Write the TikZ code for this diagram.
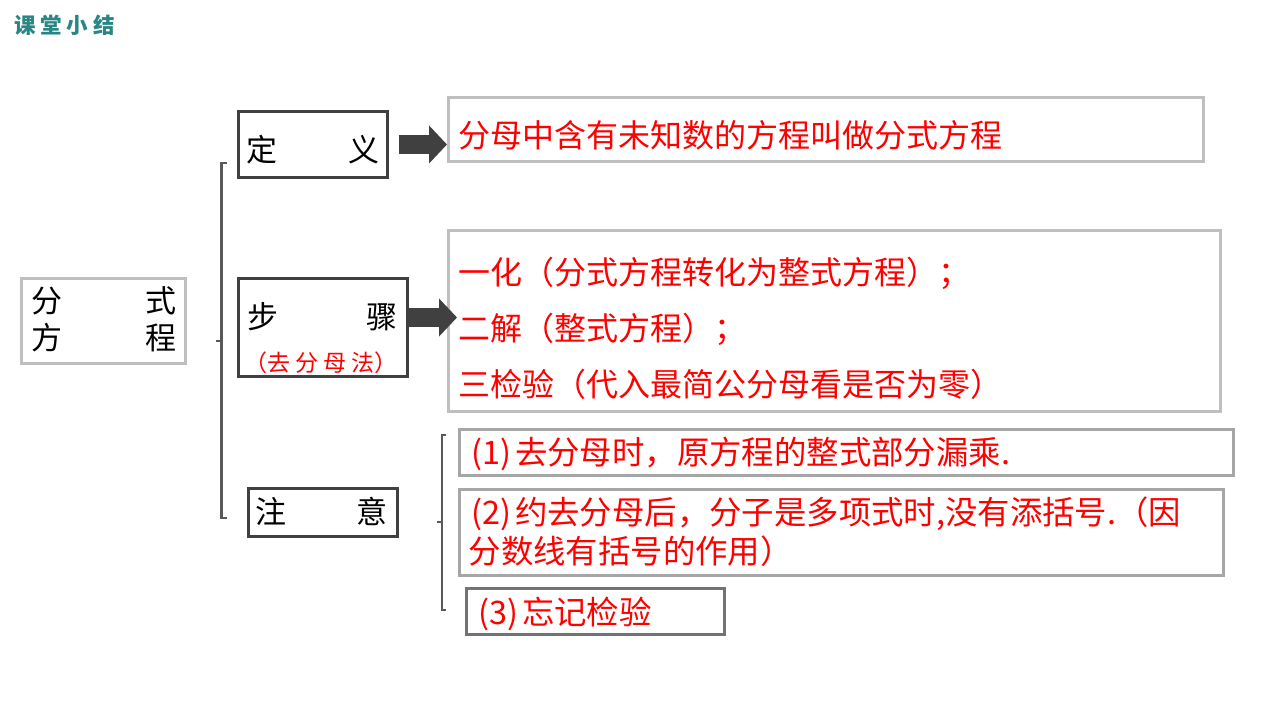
\documentclass[tikz,border=0pt]{standalone}
\usepackage{fontspec}
\setmainfont{Noto Sans CJK SC}
\usetikzlibrary{arrows.meta,calc}
\definecolor{boxdark}{HTML}{404040}
\definecolor{boxlight}{HTML}{BFBFBF}
\definecolor{boxmid}{HTML}{A6A6A6}
\definecolor{boxthree}{HTML}{737373}
\definecolor{bracketc}{HTML}{595959}
\definecolor{arrowc}{HTML}{404040}
\definecolor{txtred}{HTML}{FF0000}
\definecolor{titlec}{HTML}{2A8585}
\begin{document}
\begin{tikzpicture}[x=1pt,y=-1pt,
  box/.style={rectangle,line width=3pt,inner sep=0pt,fill=white},
  darkbox/.style={box,draw=boxdark},
  lightbox/.style={box,draw=boxlight},
  midbox/.style={box,draw=boxmid},
  thirdbox/.style={box,draw=boxthree},
  blacklabel/.style={anchor=base west,inner sep=0pt,font=\fontsize{31}{37}\selectfont},
  redline/.style={anchor=base west,inner sep=0pt,text=txtred,font=\fontsize{32}{38}\selectfont},
  reditem/.style={redline,font=\fontsize{32.4}{39}\selectfont},
  bigarrow/.style={draw=arrowc,line width=19pt,-{Triangle[length=18pt,width=37pt]}},
  bracket/.style={draw=bracketc,line width=2.5pt}]
\fill[white] (0,0) rectangle (1279,720);
\useasboundingbox (0,0) rectangle (1279,720);

% title
\node[anchor=base west,inner sep=0pt,text=titlec,font=\fontsize{21.5}{25}\bfseries] (title) at (14,33.5) {课\hspace{4.8pt}堂\hspace{4.8pt}小\hspace{4.8pt}结};

% boxes
\node[lightbox,minimum width=164,minimum height=85] (fenshi) at (103.5,321) {};
\node[darkbox,minimum width=149,minimum height=66] (defbox) at (313,144.5) {};
\node[darkbox,minimum width=169,minimum height=98] (stepbox) at (323,327.5) {};
\node[darkbox,minimum width=149,minimum height=48] (notebox) at (323,512.5) {};
\node[lightbox,minimum width=755,minimum height=64] (defcontent) at (826,129.5) {};
\node[lightbox,minimum width=772,minimum height=181] (stepcontent) at (834.5,321) {};
\node[midbox,minimum width=774,minimum height=46] (item1) at (846.5,452.5) {};
\node[midbox,minimum width=764,minimum height=86] (item2) at (841.5,532.5) {};
\node[thirdbox,minimum width=258,minimum height=46] (item3) at (595.5,611.5) {};

% brackets
\coordinate (b1top) at (227,163);
\coordinate (b1bot) at (227,518);
\coordinate (b1mid) at (216,341);
\draw[bracket] (b1top) -- (221.5,163) -- (221.5,518) -- (b1bot);
\draw[bracket] (b1mid) -- (221.5,341);
\coordinate (b2top) at (446,435);
\coordinate (b2bot) at (446,610);
\coordinate (b2mid) at (437,522);
\draw[bracket] (b2top) -- (442,435) -- (442,610) -- (b2bot);
\draw[bracket] (b2mid) -- (442,522);

% arrows
\draw[bigarrow] ($(defbox.east)+(10,0)$) -- (defbox.east -| defcontent.west);
\draw[bigarrow] ($(stepbox.east)+(0,-10)$) -- ($(stepbox.east -| stepcontent.west)+(10,-10)$);

% black labels
\node[blacklabel] (fs1) at (31,312.8) {分\hspace{83.5pt}式};
\node[blacklabel] (fs2) at (31,349.8) {方\hspace{83.5pt}程};
\node[blacklabel] (deflabel) at (246.5,161.8) {定\hspace{71pt}义};
\node[blacklabel] (steplabel) at (247.5,328) {步\hspace{88pt}骤};
\node[anchor=base west,inner sep=0pt,text=txtred,font=\fontsize{23}{27}\selectfont] (stepsub) at (244,371.8) {（去\hspace{5pt}分\hspace{5pt}母\hspace{5pt}法）};
\node[blacklabel] (notelabel) at (255.5,523.3) {注\hspace{70pt}意};

% red texts
\node[redline] (deftext) at (458.5,147) {分母中含有未知数的方程叫做分式方程};
\node[redline] (step1) at (458.5,284) {一化（分式方程转化为整式方程）；};
\node[redline] (step2) at (458.5,340) {二解（整式方程）；};
\node[redline] (step3) at (458.5,396) {三检验（代入最简公分母看是否为零）};
\node[reditem] (item1text) at (471,464.5) {(1)\hspace{4pt}去分母时，原方程的整式部分漏乘.};
\node[reditem] (item2text) at (471,524.5) {(2)\hspace{4pt}约去分母后，分子是多项式时,没有添括号.（因};
\node[reditem] (item2textb) at (468.5,563.5) {分数线有括号的作用）};
\node[reditem] (item3text) at (478,624.5) {(3)\hspace{4pt}忘记检验};
\end{tikzpicture}
\end{document}
